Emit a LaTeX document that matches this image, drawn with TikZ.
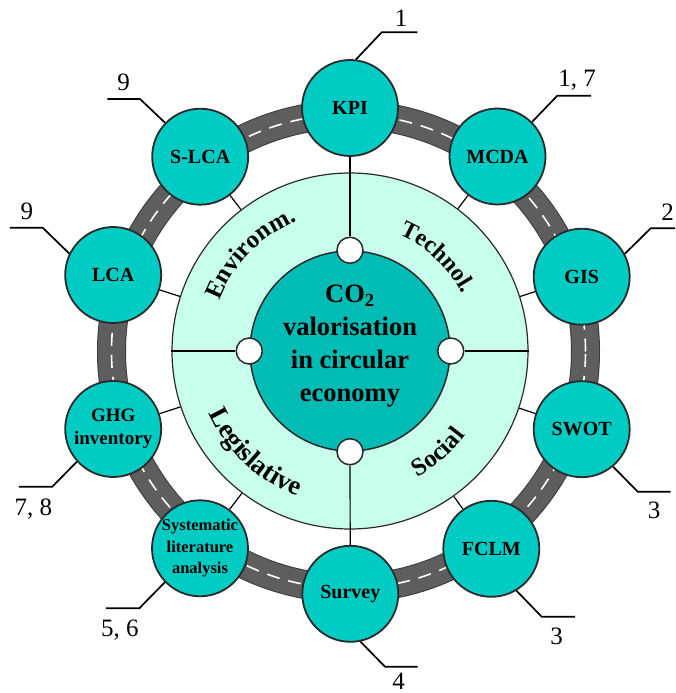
\documentclass[tikz,border=0pt]{standalone}
\usepackage{fontspec}
\setmainfont{Liberation Serif}
\usetikzlibrary{decorations.text}
\definecolor{tealnode}{HTML}{00CCC4}
\definecolor{coreteal}{HTML}{00BCB4}
\definecolor{mint}{HTML}{C8FFEC}
\definecolor{roadgray}{HTML}{5E5E5E}
\definecolor{roadedge}{HTML}{3A3A3A}
\definecolor{edgecol}{HTML}{2A2A2A}
\begin{document}
\begin{tikzpicture}[x=1pt,y=1pt,
  method/.style={circle, draw=edgecol, line width=1.8pt, fill=tealnode, minimum size=96pt, inner sep=0pt, align=center, font=\bfseries\fontsize{20}{24}\selectfont},
  conn/.style={draw=black, line width=1.2pt},
  leader/.style={draw=black, line width=1.7pt},
  refnum/.style={anchor=base, inner sep=0pt, font=\fontsize{25}{25}\selectfont},
  hub/.style={circle, draw=edgecol, line width=1.5pt, fill=white, minimum size=26pt, inner sep=0pt},
  sector/.style 2 args={decorate, decoration={text along path, text align=center, text={|\bfseries\fontsize{#1}{#1}\selectfont|#2}}},
]
\useasboundingbox[fill=white] (-350,-342) rectangle (325,351);

% road
\draw[roadedge, line width=29pt] (-1.5,-0.5) circle[radius=237];
\draw[roadgray, line width=27pt] (-1.5,-0.5) circle[radius=237];
\draw[white, line width=1.6pt, dash pattern=on 13pt off 9pt] (-1.5,-0.5) circle[radius=237];

% central circles
\node[circle, draw=edgecol, line width=1.2pt, fill=mint, minimum size=356pt, inner sep=0pt] (ring) at (0,0) {};
\node[circle, draw=edgecol, line width=1.5pt, fill=coreteal, minimum size=200pt, inner sep=0pt] (core) at (0,0) {};
\node[hub] (htop) at (core.north) {};
\node[hub] (hbot) at (core.south) {};
\node[hub] (hleft) at (core.west) {};
\node[hub] (hright) at (core.east) {};

\node[align=center, font=\bfseries\fontsize{26.5}{33}\selectfont, inner sep=0pt] (title) at (0,5) {CO\textsubscript{2}\\valorisation\\in circular\\economy};

% sector labels
\path[sector={25}{Environm.}] (180.6:140) arc[start angle=180.6, end angle=90.6, radius=140];
\path[sector={24}{Technol.}] (92:126) arc[start angle=92, end angle=2, radius=126];
\path[sector={27}{Legislative}] (182:154) arc[start angle=182, end angle=272, radius=154];
\path[sector={25}{Social}] (266:143) arc[start angle=266, end angle=356, radius=143];

% method nodes
\node[method] (kpi) at (0,243) {KPI};
\node[method] (mcda) at (147.5,194.5) {MCDA};
\node[method] (gis) at (231.7,74.3) {GIS};
\node[method] (swot) at (231.7,-78.2) {SWOT};
\node[method] (fclm) at (141.3,-197.8) {FCLM};
\node[method] (survey) at (0.3,-242.8) {Survey};
\node[method, inner sep=-6pt, font=\bfseries\fontsize{16.5}{21.5}\selectfont] (sla) at (-150,-197.3) {Systematic\\literature\\analysis};
\node[method, inner sep=-4pt, font=\bfseries\fontsize{19}{23}\selectfont] (ghg) at (-236.8,-78) {GHG\\inventory};
\node[method] (lca) at (-236.8,76) {LCA};
\node[method] (slca) at (-149.8,194.3) {S-LCA};

% connectors
\foreach \n in {mcda,gis,swot,fclm,sla,ghg,lca,slca} \draw[conn] (\n) -- (ring);
\draw[conn] (kpi) -- (htop);
\draw[conn] (survey) -- (hbot);
\draw[conn] (hleft) -- (ring.west);
\draw[conn] (hright) -- (ring.east);

% leaders and reference numbers
\coordinate (kpiB) at (31.7,318.7); \coordinate (kpiE) at (67.3,318.7);
\draw[leader] (kpi.83) -- (kpiB) -- (kpiE);
\node[refnum] (kpiN) at (51,324.2) {1};

\coordinate (mcdaB) at (207.3,255.3); \coordinate (mcdaE) at (241,255.3);
\draw[leader] (mcda.45) -- (mcdaB) -- (mcdaE);
\node[refnum] (mcdaN) at (227,264.7) {1, 7};

\coordinate (gisB) at (300.7,122.7); \coordinate (gisE) at (325,122.7);
\draw[leader] (gis.28) -- (gisB) -- (gisE);
\node[refnum] (gisN) at (317.5,130.5) {2};

\coordinate (swotB) at (287.7,-140.7); \coordinate (swotE) at (320.7,-140.7);
\draw[leader] (swot.-50) -- (swotB) -- (swotE);
\node[refnum] (swotN) at (304,-167.5) {3};

\coordinate (fclmB) at (191.7,-265.7); \coordinate (fclmE) at (225,-265.7);
\draw[leader] (fclm.-59) -- (fclmB) -- (fclmE);
\node[refnum] (fclmN) at (206.7,-293.2) {3};

\coordinate (surveyB) at (35,-315.7); \coordinate (surveyE) at (67.7,-315.7);
\draw[leader] (survey.-78) -- (surveyB) -- (surveyE);
\node[refnum] (surveyN) at (48.7,-338.8) {4};

\coordinate (slaB) at (-210.7,-257.3); \coordinate (slaE) at (-244,-257.3);
\draw[leader] (sla.224) -- (slaB) -- (slaE);
\node[refnum] (slaN) at (-230,-285.8) {5, 6};

\coordinate (ghgB) at (-297.7,-135.7); \coordinate (ghgE) at (-331,-135.7);
\draw[leader] (ghg.222) -- (ghgB) -- (ghgE);
\node[refnum] (ghgN) at (-316.7,-164.2) {7, 8};

\coordinate (lcaB) at (-307.3,123.3); \coordinate (lcaE) at (-340,123.3);
\draw[leader] (lca.154) -- (lcaB) -- (lcaE);
\node[refnum] (lcaN) at (-323,131.8) {9};

\coordinate (slcaB) at (-210,252); \coordinate (slcaE) at (-242.7,252);
\draw[leader] (slca.136) -- (slcaB) -- (slcaE);
\node[refnum] (slcaN) at (-226.3,260) {9};
\end{tikzpicture}
\end{document}
